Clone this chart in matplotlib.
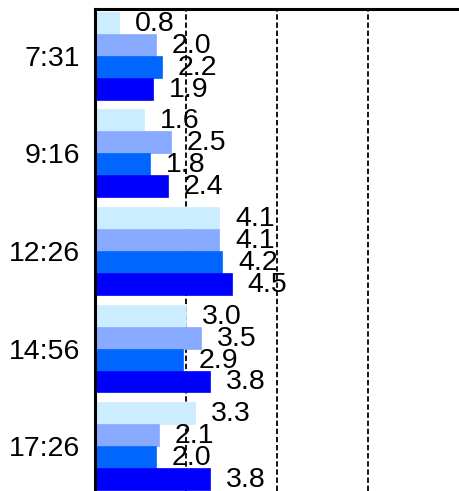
import matplotlib
matplotlib.use('Agg')
import matplotlib.pyplot as plt
import numpy as np

# categories (time of day) and the four series
times = ['7:31', '9:16', '12:26', '14:56', '17:26']
series_a = [0.8, 1.6, 4.1, 3.0, 3.3]
series_b = [2.0, 2.5, 4.1, 3.5, 2.1]
series_c = [2.2, 1.8, 4.2, 2.9, 2.0]
series_d = [1.9, 2.4, 4.5, 3.8, 3.8]
colors = ['#CCECFF', '#88AAFF', '#0066FF', '#0000FF']

plt.rcParams['font.family'] = ['Liberation Sans', 'DejaVu Sans']
font = dict(size=20.5)

fig = plt.figure(figsize=(4.59, 4.91), dpi=100)
ax = fig.add_axes([95 / 459, 0.0, 1 - 95 / 459, (491 - 9) / 491])

y = np.arange(len(times))
h = 0.225
all_series = [series_a, series_b, series_c, series_d]
for i, (vals, col) in enumerate(zip(all_series, colors)):
    pos = y - 0.45 + h * (i + 0.5)
    ax.barh(pos, vals, height=h, color=col, edgecolor=col, linewidth=0.5, zorder=2)
    for p, v in zip(pos, vals):
        ax.annotate(f'{v:.1f}', (v, p), xytext=(16, -1), textcoords='offset pixels',
                    ha='left', va='center', zorder=3, **font)

ax.set_xlim(0, 12)
ax.set_ylim(4.46, -0.48)
ax.set_xticks([3, 6, 9])
ax.xaxis.grid(True, color='black', linestyle=(0, (3, 1.5)), linewidth=1.3, zorder=0)
ax.set_axisbelow(True)
ax.tick_params(axis='x', length=0, labelbottom=False)
ax.set_yticks(y)
ax.set_yticklabels(times, **font)
ax.tick_params(axis='y', length=0, pad=10.5)

for s in ['bottom', 'right']:
    ax.spines[s].set_visible(False)
for s in ['top', 'left']:
    ax.spines[s].set_linewidth(2.2)
    ax.spines[s].set_color('black')

fig.savefig('out.png', dpi=100)
